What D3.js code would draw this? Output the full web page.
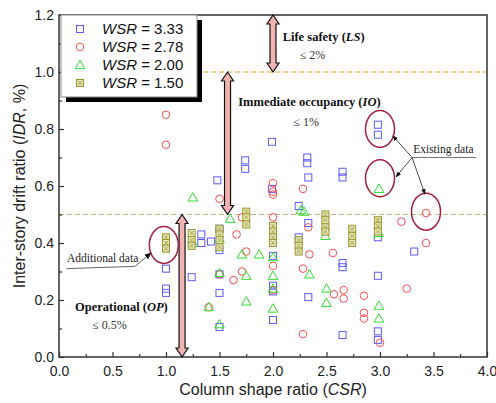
<!DOCTYPE html>
<html>
<head>
<meta charset="utf-8">
<script src="https://cdn.jsdelivr.net/npm/d3@7"></script>
<style>
body { margin: 0; background: #fff; }
</style>
</head>
<body>
<div id="chart"></div>
<script>
// WSR = 3.33
var csrA = [1.0, 1.0, 1.0, 1.24, 1.33, 1.33, 1.42, 1.48, 1.5, 1.5, 1.5, 1.5, 1.5, 1.74, 1.74, 1.99, 1.99,
            2.0, 2.0, 2.0, 2.0, 2.0, 2.24, 2.24, 2.32, 2.32, 2.33, 2.33, 2.33, 2.65, 2.65, 2.65, 2.65, 2.65,
            2.98, 2.98, 2.98, 2.98, 2.98, 2.98, 3.32];
var idrA = [0.31, 0.24, 0.225, 0.28, 0.43, 0.40, 0.405, 0.62, 0.45, 0.375, 0.29, 0.225, 0.105, 0.69, 0.66, 0.755, 0.59,
            0.40, 0.355, 0.25, 0.23, 0.13, 0.53, 0.42, 0.70, 0.68, 0.63, 0.47, 0.21, 0.65, 0.63, 0.33, 0.315, 0.077,
            0.815, 0.78, 0.42, 0.285, 0.09, 0.06, 0.37];
// WSR = 2.78
var csrB = [1.0, 1.0, 1.4, 1.5, 1.5, 1.63, 1.66, 1.71, 1.71, 1.75, 2.0, 2.0, 2.0, 2.0, 2.0, 2.0, 2.0,
            2.28, 2.28, 2.28, 2.33, 2.34, 2.56, 2.57, 2.66, 2.66, 2.85, 2.85, 2.85, 3.0, 3.2, 3.25, 3.43, 3.43];
var idrB = [0.85, 0.745, 0.175, 0.555, 0.29, 0.27, 0.43, 0.49, 0.30, 0.37, 0.61, 0.58, 0.57, 0.49, 0.40, 0.32, 0.235,
            0.59, 0.31, 0.08, 0.455, 0.36, 0.365, 0.22, 0.235, 0.205, 0.215, 0.155, 0.135, 0.05, 0.475, 0.24, 0.505, 0.40];
// WSR = 2.00
var csrC = [1.25, 1.25, 1.4, 1.5, 1.5, 1.5, 1.6, 1.71, 1.75, 1.75, 1.87, 2.0, 2.0, 2.0, 2.0,
            2.26, 2.29, 2.34, 2.49, 2.5, 2.5, 2.99, 2.99, 2.99, 2.99];
var idrC = [0.56, 0.40, 0.175, 0.415, 0.295, 0.115, 0.485, 0.36, 0.285, 0.195, 0.36, 0.35, 0.285, 0.24, 0.17,
            0.515, 0.51, 0.29, 0.425, 0.24, 0.19, 0.59, 0.435, 0.18, 0.135];
// WSR = 1.50
var csrD = [1.0, 1.0, 1.0, 1.24, 1.24, 1.24, 1.5, 1.5, 1.5, 1.5, 1.75, 1.75, 1.75, 2.0, 2.0, 2.0, 2.0,
            2.24, 2.24, 2.24, 2.49, 2.49, 2.49, 2.49, 2.74, 2.74, 2.74, 2.98, 2.98, 2.98];
var idrD = [0.42, 0.40, 0.38, 0.435, 0.41, 0.39, 0.45, 0.43, 0.41, 0.385, 0.51, 0.49, 0.465, 0.46, 0.44, 0.42, 0.40,
            0.41, 0.39, 0.37, 0.50, 0.48, 0.455, 0.44, 0.45, 0.425, 0.40, 0.48, 0.46, 0.44];

var wsrLabels = ['3.33', '2.78', '2.00', '1.50'];
var xTicks = [0, 0.5, 1, 1.5, 2, 2.5, 3, 3.5, 4];
var yTicks = [0, 0.2, 0.4, 0.6, 0.8, 1.0, 1.2];
var limits = [0.5, 1.0];

var margin = {top: 15, right: 9, bottom: 46, left: 59};
var width = 496 - margin.left - margin.right, height = 403 - margin.top - margin.bottom;

var x = d3.scaleLinear().domain([0, 4]).range([0, width]);
var y = d3.scaleLinear().domain([0, 1.2]).range([height, 0]);

var svg = d3.select('#chart').append('svg')
    .attr('width', 496)
    .attr('height', 403)
    .style('font-family', 'Liberation Sans, Arial, sans-serif');
var g = svg.append('g')
    .attr('transform', 'translate(' + margin.left + ',' + margin.top + ')');

// dashed limit lines
g.append('line')
    .attr('x1', 0).attr('x2', width)
    .attr('y1', y(limits[1])).attr('y2', y(limits[1]))
    .attr('stroke', '#E6A52A').attr('stroke-width', 1).attr('stroke-dasharray', '5,3');
g.append('line')
    .attr('x1', 0).attr('x2', width)
    .attr('y1', y(limits[0])).attr('y2', y(limits[0]))
    .attr('stroke', '#C9B384').attr('stroke-width', 1).attr('stroke-dasharray', '5,3');

// axes
var xAxis = g.append('g').attr('transform', 'translate(0,' + height + ')')
    .call(d3.axisBottom(x).tickValues(xTicks).tickSize(-5).tickPadding(9).tickFormat(d3.format('.1f')));
g.append('g').attr('transform', 'translate(0,' + height + ')')
    .call(d3.axisBottom(x).tickValues(d3.range(0.25, 4, 0.5)).tickSize(-3).tickFormat(''));
var yAxis = g.append('g')
    .call(d3.axisLeft(y).tickValues(yTicks).tickSize(-5).tickPadding(5).tickFormat(d3.format('.1f')));
g.append('g')
    .call(d3.axisLeft(y).tickValues(d3.range(0.1, 1.2, 0.2)).tickSize(-3).tickFormat(''));
g.selectAll('.domain').remove();
g.selectAll('.tick line').attr('stroke', '#333').attr('stroke-width', 1.2);
g.selectAll('.tick text').attr('font-size', 14).attr('fill', '#222')
    .style('font-family', 'Liberation Sans, Arial, sans-serif');

g.append('rect')
    .attr('width', width).attr('height', height)
    .attr('fill', 'none').attr('stroke', '#333').attr('stroke-width', 1.5);

// markers
function square(sel, cx, cy, col) {
    sel.append('rect').attr('x', cx - 3.5).attr('y', cy - 3.5).attr('width', 7).attr('height', 7)
        .attr('fill', 'none').attr('stroke', col).attr('stroke-width', 1);
}
function circle(sel, cx, cy, col) {
    sel.append('circle').attr('cx', cx).attr('cy', cy).attr('r', 3.8)
        .attr('fill', 'none').attr('stroke', col).attr('stroke-width', 1);
}
function triangle(sel, cx, cy, col) {
    sel.append('path')
        .attr('d', 'M' + cx + ',' + (cy - 4.8) + 'L' + (cx + 4.8) + ',' + (cy + 3.6) + 'L' + (cx - 4.8) + ',' + (cy + 3.6) + 'Z')
        .attr('fill', 'none').attr('stroke', col).attr('stroke-width', 1);
}
function xsquare(sel, cx, cy, col) {
    sel.append('rect').attr('x', cx - 3.5).attr('y', cy - 3.5).attr('width', 7).attr('height', 7)
        .attr('fill', '#E4E2B8').attr('stroke', col).attr('stroke-width', 1);
    sel.append('path')
        .attr('d', 'M' + (cx - 2) + ',' + (cy - 2) + 'L' + (cx + 2) + ',' + (cy + 2) + 'M' + (cx + 2) + ',' + (cy - 2) + 'L' + (cx - 2) + ',' + (cy + 2))
        .attr('stroke', col).attr('stroke-width', 0.8);
}

var series = [
    {csr: csrA, idr: idrA, col: '#5B5BFF', draw: square},
    {csr: csrB, idr: idrB, col: '#FF4F4F', draw: circle},
    {csr: csrC, idr: idrC, col: '#2FE02F', draw: triangle},
    {csr: csrD, idr: idrD, col: '#9B9A2E', draw: xsquare}
];
var pts = g.append('g');
series.forEach(function (s) {
    s.csr.forEach(function (d, i) {
        s.draw(pts, x(d), y(s.idr[i]), s.col);
    });
});

// double arrows
function dArrow(xv, y1v, y2v) {
    var cx = x(xv), t = y(y1v), b = y(y2v), hw = 3, hh = 6, hl = 9;
    var p = [[cx, t], [cx + hh, t + hl], [cx + hw, t + hl], [cx + hw, b - hl], [cx + hh, b - hl], [cx, b],
             [cx - hh, b - hl], [cx - hw, b - hl], [cx - hw, t + hl], [cx - hh, t + hl]];
    g.append('path').attr('d', 'M' + p.join('L') + 'Z')
        .attr('fill', '#F2B3B3').attr('stroke', '#111').attr('stroke-width', 1.2);
}
dArrow(2.0, 1.2, 1.0);
dArrow(1.575, 1.0, 0.5);
dArrow(1.15, 0.5, 0.0);

// limit state labels
function stateLabel(xv, yv, name, abbr) {
    var t = g.append('text').attr('x', x(xv)).attr('y', y(yv))
        .attr('font-family', 'Liberation Serif, Times New Roman, serif')
        .attr('font-size', 12.5).attr('font-weight', 'bold').attr('fill', '#111');
    t.append('tspan').text(name + ' (');
    t.append('tspan').attr('font-style', 'italic').text(abbr);
    t.append('tspan').text(')');
}
function limitLabel(xv, yv, txt) {
    g.append('text').attr('x', x(xv)).attr('y', y(yv))
        .attr('font-family', 'Liberation Serif, Times New Roman, serif')
        .attr('font-size', 12).attr('fill', '#333').text(txt);
}
stateLabel(2.09, 1.11, 'Life safety', 'LS');
limitLabel(2.25, 1.045, '\u2264 2%');
stateLabel(1.675, 0.882, 'Immediate occupancy', 'IO');
limitLabel(2.19, 0.812, '\u2264 1%');
stateLabel(0.15, 0.162, 'Operational', 'OP');
limitLabel(0.31, 0.097, '\u2264 0.5%');

// ellipses around highlighted data
var ringCol = '#A3203F';
function ring(xv, yv) {
    g.append('ellipse').attr('cx', x(xv)).attr('cy', y(yv)).attr('rx', 14.5).attr('ry', 18.5)
        .attr('fill', 'none').attr('stroke', ringCol).attr('stroke-width', 1.5);
}
ring(0.98, 0.393);
ring(3.0, 0.8);
ring(3.0, 0.627);
ring(3.43, 0.51);

// leader arrows
svg.append('defs').append('marker')
    .attr('id', 'ah').attr('viewBox', '0 0 10 10').attr('refX', 9).attr('refY', 5)
    .attr('markerWidth', 7).attr('markerHeight', 7).attr('orient', 'auto')
    .append('path').attr('d', 'M0,1L10,5L0,9Z').attr('fill', '#111');

function note(xv, yv, txt) {
    g.append('text').attr('x', x(xv)).attr('y', y(yv))
        .attr('font-family', 'Liberation Serif, Times New Roman, serif')
        .attr('font-size', 11.5).attr('fill', '#222').text(txt);
}
note(0.075, 0.333, 'Additional data');
g.append('path')
    .attr('d', 'M' + x(0.07) + ',' + y(0.31) + 'L' + x(0.71) + ',' + y(0.318) + 'L' + x(0.86) + ',' + y(0.365))
    .attr('fill', 'none').attr('stroke', '#666').attr('stroke-width', 1).attr('marker-end', 'url(#ah)');

note(3.31, 0.715, 'Existing data');
g.append('line')
    .attr('x1', x(3.3)).attr('x2', x(3.9)).attr('y1', y(0.7)).attr('y2', y(0.7))
    .attr('stroke', '#777').attr('stroke-width', 1);
[[3.12, 0.776], [3.15, 0.632], [3.42, 0.572]].forEach(function (d) {
    g.append('line')
        .attr('x1', x(3.3)).attr('y1', y(0.7)).attr('x2', x(d[0])).attr('y2', y(d[1]))
        .attr('stroke', '#222').attr('stroke-width', 0.8).attr('marker-end', 'url(#ah)');
});

// legend
var lg = g.append('g').attr('transform', 'translate(2,0)');
lg.append('rect').attr('x', 5).attr('y', 5).attr('width', 136).attr('height', 82).attr('fill', '#000');
lg.append('rect').attr('x', 0).attr('y', 0).attr('width', 136).attr('height', 82)
    .attr('fill', '#fff').attr('stroke', '#888').attr('stroke-width', 1);
series.forEach(function (s, i) {
    var ry = 14 + i * 18;
    s.draw(lg, 19, ry, s.col);
    var t = lg.append('text').attr('x', 41).attr('y', ry + 5).attr('font-size', 15).attr('fill', '#111');
    t.append('tspan').attr('font-style', 'italic').text('WSR');
    t.append('tspan').text(' = ' + wsrLabels[i]);
});

// axis titles
var xt = svg.append('text').attr('x', margin.left + width / 2).attr('y', 395)
    .attr('text-anchor', 'middle').attr('font-size', 16).attr('fill', '#222');
xt.append('tspan').text('Column shape ratio (');
xt.append('tspan').attr('font-style', 'italic').text('CSR');
xt.append('tspan').text(')');

var yt = svg.append('text').attr('transform', 'translate(25,' + (margin.top + height / 2) + ') rotate(-90)')
    .attr('text-anchor', 'middle').attr('font-size', 16).attr('fill', '#222');
yt.append('tspan').text('Inter-story drift ratio (');
yt.append('tspan').attr('font-style', 'italic').text('IDR');
yt.append('tspan').text(', %)');
</script>
</body>
</html>
